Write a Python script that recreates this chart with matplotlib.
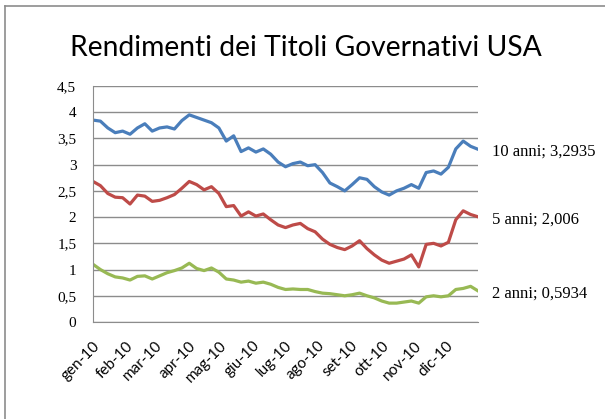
import matplotlib
matplotlib.use("Agg")
import matplotlib.pyplot as plt
import pandas as pd
from matplotlib.lines import Line2D

# Weekly US Treasury yields, 2010 (percent)
days = list(range(0, 365, 7))
dates = pd.Timestamp("2010-01-01") + pd.to_timedelta(days, unit="D")

y10 = [3.85, 3.83, 3.70, 3.61, 3.64, 3.58, 3.70, 3.78, 3.64, 3.70,
       3.72, 3.68, 3.84, 3.95, 3.90, 3.85, 3.80, 3.70, 3.45, 3.55,
       3.25, 3.32, 3.24, 3.30, 3.20, 3.05, 2.96, 3.02, 3.05, 2.98,
       3.00, 2.85, 2.65, 2.58, 2.50, 2.62, 2.75, 2.72, 2.58, 2.48,
       2.42, 2.50, 2.55, 2.62, 2.55, 2.85, 2.88, 2.82, 2.95, 3.30,
       3.45, 3.35, 3.2935]
y5 = [2.68, 2.60, 2.45, 2.38, 2.37, 2.25, 2.42, 2.40, 2.30, 2.32,
      2.37, 2.43, 2.55, 2.68, 2.62, 2.52, 2.58, 2.45, 2.20, 2.22,
      2.02, 2.10, 2.02, 2.06, 1.95, 1.85, 1.80, 1.85, 1.88, 1.78,
      1.72, 1.58, 1.48, 1.42, 1.38, 1.45, 1.55, 1.40, 1.28, 1.18,
      1.12, 1.16, 1.20, 1.28, 1.05, 1.48, 1.50, 1.45, 1.52, 1.95,
      2.12, 2.05, 2.006]
y2 = [1.10, 1.00, 0.92, 0.86, 0.84, 0.80, 0.87, 0.88, 0.82, 0.88,
      0.94, 0.98, 1.03, 1.12, 1.02, 0.98, 1.03, 0.95, 0.82, 0.80,
      0.76, 0.78, 0.74, 0.76, 0.72, 0.66, 0.62, 0.63, 0.62, 0.62,
      0.58, 0.55, 0.54, 0.52, 0.50, 0.52, 0.55, 0.50, 0.46, 0.40,
      0.36, 0.36, 0.38, 0.40, 0.36, 0.48, 0.50, 0.48, 0.50, 0.62,
      0.64, 0.68, 0.5934]

series = [("10 anni", y10, "#4A7EBB"),
          ("5 anni", y5, "#BE4B48"),
          ("2 anni", y2, "#98B954")]

month_labels = ["gen-10", "feb-10", "mar-10", "apr-10", "mag-10", "giu-10",
                "lug-10", "ago-10", "set-10", "ott-10", "nov-10", "dic-10"]
month_starts = pd.date_range("2010-01-01", periods=12, freq="MS")

yticks = [0, 0.5, 1, 1.5, 2, 2.5, 3, 3.5, 4, 4.5]
ytick_labels = ["0", "0,5", "1", "1,5", "2", "2,5", "3", "3,5", "4", "4,5"]

serif = ["Liberation Serif", "DejaVu Serif"]
sans = ["Lato", "DejaVu Sans"]

fig = plt.figure(figsize=(6.05, 4.19), dpi=100)
ax = fig.add_axes([93 / 605, 1 - 322 / 419, 385 / 605, 236 / 419])

for name, vals, col in series:
    ax.plot(dates, vals, color=col, lw=2.3, solid_joinstyle="round")
    ax.annotate(f"{name}; {str(vals[-1]).replace('.', ',')}",
                xy=(1, vals[-1]), xycoords=("axes fraction", "data"),
                xytext=(10, -2), textcoords="offset points",
                va="center", ha="left", fontsize=12, family=serif)

ax.set_ylim(0, 4.5)
ax.set_xlim(dates[0], dates[-1])
ax.set_yticks(yticks)
ax.set_yticklabels(ytick_labels, family=serif, fontsize=11)
ax.set_xticks(month_starts)
ax.set_xticklabels(month_labels, family=sans, fontsize=11,
                   rotation=45, ha="right", va="top", rotation_mode="anchor")
ax.tick_params(axis="y", length=0, pad=12)
ax.tick_params(axis="x", length=0, pad=12)

ax.grid(axis="y", color="#8c8c8c", lw=1)
ax.set_axisbelow(True)
for side in ["top", "right"]:
    ax.spines[side].set_visible(False)
ax.spines["left"].set_color("#8c8c8c")
ax.spines["bottom"].set_color("#8c8c8c")

fig.text(0.505, 1 - 48 / 419, "Rendimenti dei Titoli Governativi USA",
         ha="center", va="center", fontsize=20.3, family=sans)

# chart frame
fig.add_artist(Line2D([5 / 605, 1], [1 - 6 / 419, 1 - 6 / 419], color="#8c8c8c", lw=1.2,
                      transform=fig.transFigure))
fig.add_artist(Line2D([5 / 605, 5 / 605], [0, 1 - 6 / 419], color="#8c8c8c", lw=1.2,
                      transform=fig.transFigure))

fig.savefig("out.png", dpi=100)
